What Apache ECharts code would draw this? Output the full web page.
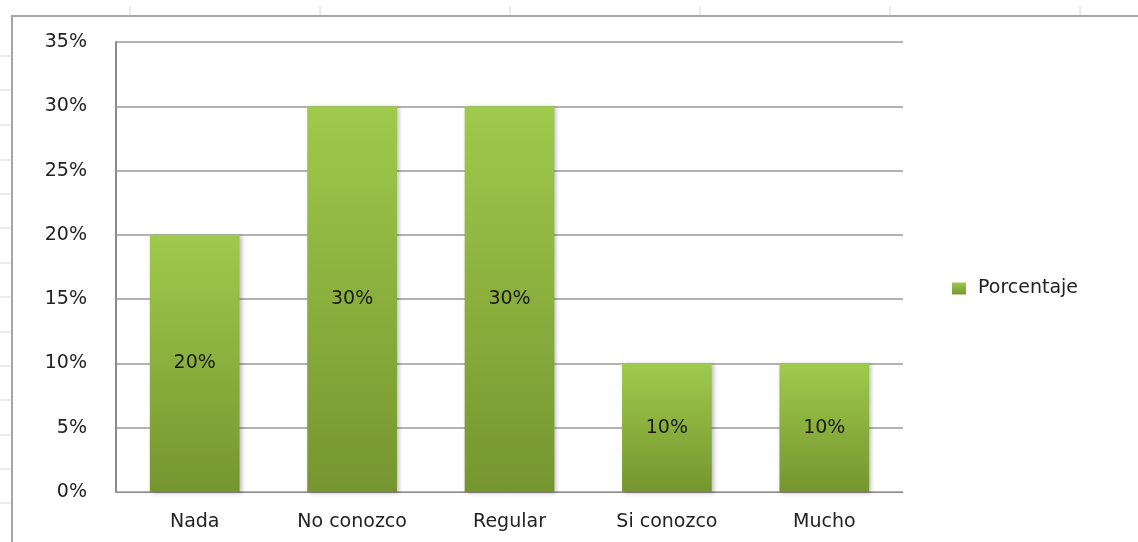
<!DOCTYPE html>
<html>
<head>
<meta charset="utf-8">
<script src="https://cdn.jsdelivr.net/npm/echarts@6/dist/echarts.min.js"></script>
<style>
html,body{margin:0;padding:0;background:#fff;}
#chart{width:1138px;height:542px;}
</style>
</head>
<body>
<div id="chart"></div>
<script>
const categories = ['Nada', 'No conozco', 'Regular', 'Si conozco', 'Mucho'];
const porcentaje = [0.20, 0.30, 0.30, 0.10, 0.10];
const seriesName = 'Porcentaje';
const yTicks = { min: 0, max: 0.35, interval: 0.05 };

const chart = echarts.init(document.getElementById('chart'));
const FONT = 'DejaVu Sans';
const FS = 19;

// spreadsheet background decoration (cell borders visible outside the chart frame)
const deco = [];
[130, 320, 510, 700, 890, 1080].forEach(x => {
  deco.push({ type: 'line', shape: { x1: x, y1: 6, x2: x, y2: 15 }, style: { stroke: '#d8d8d8', lineWidth: 1 }, silent: true });
});
[56, 90, 125, 160, 194, 228, 263, 297, 332, 366, 400, 435, 469, 503].forEach(y => {
  deco.push({ type: 'line', shape: { x1: 0, y1: y, x2: 11, y2: y }, style: { stroke: '#d8d8d8', lineWidth: 1 }, silent: true });
});
deco.push({ type: 'rect', shape: { x: 12, y: 16, width: 1200, height: 600 }, style: { fill: 'none', stroke: '#a6a6a6', lineWidth: 2 }, silent: true });

chart.setOption({
  backgroundColor: '#fff',
  animation: false,
  graphic: deco,
  grid: { left: 116, right: 235, top: 42, bottom: 50 },
  legend: {
    data: [seriesName],
    orient: 'vertical',
    left: 947,
    top: 274,
    icon: 'rect',
    itemWidth: 14,
    itemHeight: 12,
    itemGap: 8,
    textStyle: { fontFamily: FONT, fontSize: FS, color: '#222', padding: [0, 0, 0, 7] }
  },
  xAxis: {
    type: 'category',
    data: categories,
    axisLine: { show: true, lineStyle: { color: '#8c8c8c', width: 1 } },
    axisTick: { show: false },
    axisLabel: { fontFamily: FONT, fontSize: FS, color: '#222', margin: 21 }
  },
  yAxis: {
    type: 'value',
    min: yTicks.min,
    max: yTicks.max,
    interval: yTicks.interval,
    axisLine: { show: true, lineStyle: { color: '#8c8c8c', width: 2 } },
    axisTick: { show: false },
    axisLabel: {
      fontFamily: FONT, fontSize: FS, color: '#222', margin: 29,
      formatter: v => Math.round(v * 100) + '%'
    },
    splitLine: { show: true, lineStyle: { color: '#9a9a9a', width: 1.5 } }
  },
  series: [{
    name: seriesName,
    type: 'bar',
    data: porcentaje,
    barWidth: '57%',
    itemStyle: {
      color: new echarts.graphic.LinearGradient(0, 0, 0, 1, [
        { offset: 0, color: '#9fca4c' },
        { offset: 1, color: '#76952f' }
      ]),
      shadowBlur: 4,
      shadowOffsetX: 2,
      shadowOffsetY: 1,
      shadowColor: 'rgba(0,0,0,0.25)'
    },
    label: {
      show: true,
      position: 'inside',
      fontFamily: FONT,
      fontSize: FS,
      color: '#1a1a1a',
      formatter: p => Math.round(p.value * 100) + '%'
    }
  }]
});
</script>
</body>
</html>
